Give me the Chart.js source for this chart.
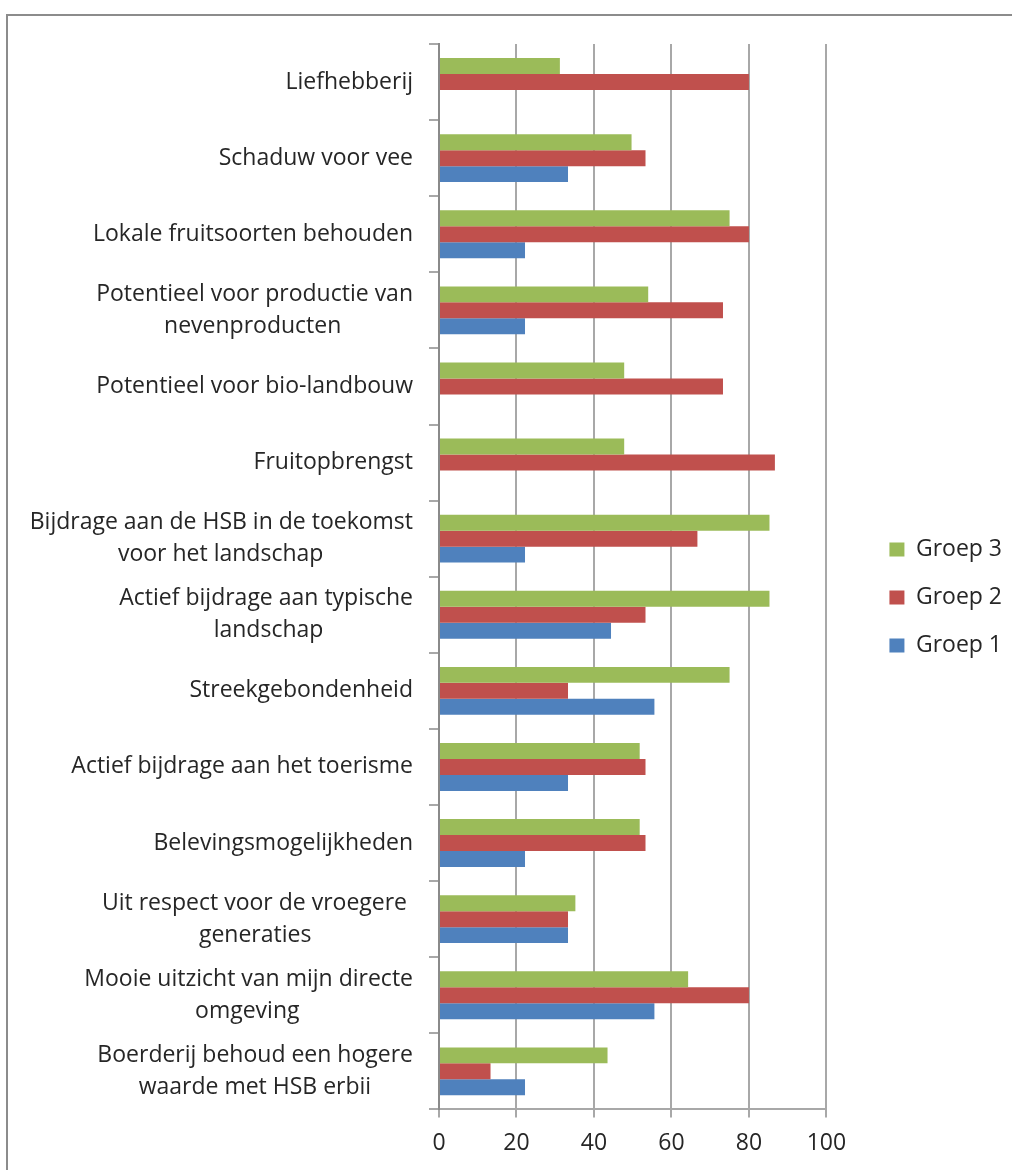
<!DOCTYPE html>
<html>
<head>
<meta charset="utf-8">
<script src="https://cdn.jsdelivr.net/npm/chart.js@4"></script>
<style>
  html, body { margin: 0; padding: 0; background: #fff; overflow: hidden; }
  #frame { position: absolute; left: 6px; top: 14px; width: 1100px; height: 1200px; border: 2px solid #8c8c8c; }
  #wrap { position: absolute; left: 0; top: 0; width: 1012px; height: 1170px; }
</style>
</head>
<body>
<div id="frame"></div>
<div id="wrap"><canvas id="chart" width="1012" height="1170"></canvas></div>
<script>
const categories = [
    'Liefhebberij',
    'Schaduw voor vee',
    'Lokale fruitsoorten behouden',
    ['Potentieel voor productie van', 'nevenproducten'],
    'Potentieel voor bio-landbouw',
    'Fruitopbrengst',
    ['Bijdrage aan de HSB in de toekomst', 'voor het landschap'],
    ['Actief bijdrage aan typische', 'landschap'],
    'Streekgebondenheid',
    'Actief bijdrage aan het toerisme',
    'Belevingsmogelijkheden',
    ['Uit respect voor de vroegere ', 'generaties'],
    ['Mooie uitzicht van mijn directe', 'omgeving'],
    ['Boerderij behoud een hogere', 'waarde met HSB erbii']
];
const groep3 = [31.2, 49.7, 75, 54, 47.8, 47.8, 85.3, 85.3, 75, 51.8, 51.8, 35.2, 64.3, 43.5];
const groep2 = [80, 53.3, 80, 73.3, 73.3, 86.7, 66.7, 53.3, 33.3, 53.3, 53.3, 33.3, 80, 13.3];
const groep1 = [0, 33.3, 22.2, 22.2, 0, 0, 22.2, 44.4, 55.6, 33.3, 22.2, 33.3, 55.6, 22.2];
const xTicks = [0, 20, 40, 60, 80, 100];

const textColor = '#262626';
const gridColor = '#a8a8a8';
const labelFont = { family: 'Open Sans', size: 23 };

// Excel centres the lines of a wrapped label on each other, but the block is right aligned.
// Pad the shorter lines with trailing spaces so they look centred.
const measureCtx = document.createElement('canvas').getContext('2d');
measureCtx.font = labelFont.size + 'px "' + labelFont.family + '"';
function centerLines(label) {
    if (!Array.isArray(label)) return label;
    const widths = label.map(l => measureCtx.measureText(l).width);
    const maxW = Math.max(...widths);
    const spaceW = measureCtx.measureText(' ').width;
    return label.map((l, i) => l + ' '.repeat(Math.round((maxW - widths[i]) / 2 / spaceW)));
}

// keep the legend away from the plot area, and lift it a bit
const legendGap = {
    id: 'legendGap',
    beforeLayout(chart) {
        const lg = chart.legend;
        if (lg && !lg._gapPatched) {
            const fit = lg.fit;
            lg.fit = function () {
                fit.call(this);
                this.width += 38;
            };
            lg._gapPatched = true;
        }
    },
    afterLayout(chart) {
        const lg = chart.legend;
        if (!lg) return;
        lg.left += 38;
        lg.top -= 9;
        lg.bottom -= 9;
    }
};

const ctx = document.getElementById('chart').getContext('2d');
new Chart(ctx, {
    type: 'bar',
    data: {
        labels: categories,
        datasets: [
            { label: 'Groep 3', data: groep3, backgroundColor: '#9BBB59' },
            { label: 'Groep 2', data: groep2, backgroundColor: '#C0504D' },
            { label: 'Groep 1', data: groep1, backgroundColor: '#4F81BD' }
        ]
    },
    options: {
        indexAxis: 'y',
        responsive: false,
        animation: false,
        categoryPercentage: 0.63,
        barPercentage: 1.0,
        layout: { padding: { top: 44, bottom: 1, left: 0, right: 0 } },
        plugins: {
            tooltip: { enabled: false },
            legend: {
                position: 'right',
                labels: {
                    font: { family: labelFont.family, size: labelFont.size, lineHeight: 1.2 },
                    color: textColor,
                    boxWidth: 15,
                    boxHeight: 14,
                    padding: 25
                }
            }
        },
        scales: {
            x: {
                min: 0,
                max: 100,
                afterBuildTicks: function (scale) {
                    scale.ticks = xTicks.map(v => ({ value: v }));
                },
                grid: { color: gridColor, lineWidth: 2, tickLength: 8 },
                border: { color: gridColor, width: 2 },
                ticks: {
                    font: { family: labelFont.family, size: labelFont.size, lineHeight: 1.2 },
                    color: textColor,
                    padding: 12
                }
            },
            y: {
                afterFit: function (scale) {
                    scale.width = 439;
                    scale.paddingTop = 0;
                    scale.paddingBottom = 0;
                },
                grid: { drawOnChartArea: false, color: gridColor, lineWidth: 2, tickLength: 10 },
                border: { color: '#8a8a8a', width: 2 },
                ticks: {
                    font: { family: labelFont.family, size: labelFont.size, lineHeight: 1.4 },
                    color: textColor,
                    padding: 16,
                    autoSkip: false,
                    callback: function (value) {
                        return centerLines(this.getLabelForValue(value));
                    }
                }
            }
        }
    },
    plugins: [legendGap]
});
</script>
</body>
</html>
